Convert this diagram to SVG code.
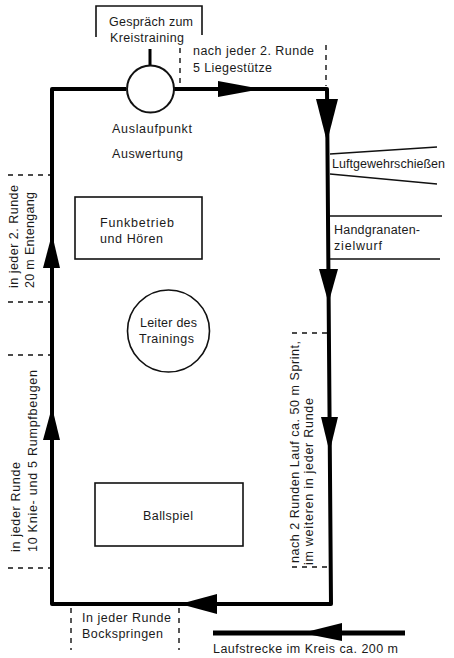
<svg xmlns="http://www.w3.org/2000/svg" width="454" height="658" viewBox="0 0 454 658">
<style>
text{font-family:"Liberation Sans",Arial,sans-serif;font-size:12.5px;fill:#1a1a1a}
.box{fill:none;stroke:#111;stroke-width:1.6}
.thin{fill:none;stroke:#111;stroke-width:1.5}
.dash{fill:none;stroke:#111;stroke-width:1.4;stroke-dasharray:5 5}
.track{fill:none;stroke:#000;stroke-width:4;stroke-linejoin:round}
.head{fill:#000}
</style>
<rect width="454" height="658" fill="#fff"/>

<g id="connectors">
  <path class="track" d="M126,89 H52 V604 H331 L327,89 H174"/>
  <path class="head" d="M218,81 L262,89 L218,97 Z"/>
  <path class="head" d="M316,99 L338,99 L327,142 Z"/>
  <path class="head" d="M319,269 L338,269 L328.5,303 Z"/>
  <path class="head" d="M321,417 L338,417 L329.5,452 Z"/>
  <path class="head" d="M52,234 L60,268 L43,268 Z"/>
  <path class="head" d="M52,407 L60,440 L43,440 Z"/>
  <path class="head" d="M180,604 L217,594 L217,614 Z"/>
  <path d="M213,633 H405" stroke="#000" stroke-width="5" fill="none"/>
  <path class="head" d="M302,633 L342,623 L342,641 Z"/>
  <path d="M150,49 V65" stroke="#000" stroke-width="3"/>
</g>

<g id="gespraech">
  <path class="box" d="M96,37 V6 H202 V35"/>
  <text x="109" y="26" textLength="84" lengthAdjust="spacing">Gespräch zum</text>
  <text x="110" y="42" textLength="74" lengthAdjust="spacing">Kreistraining</text>
</g>

<g id="auslaufpunkt">
  <circle cx="150.5" cy="89" r="23.5" fill="#fff" stroke="#111" stroke-width="2"/>
  <text x="112" y="133" textLength="80" lengthAdjust="spacing">Auslaufpunkt</text>
  <text x="112" y="158" textLength="71" lengthAdjust="spacing">Auswertung</text>
</g>

<g id="liegestuetze">
  <path class="dash" d="M180,48 V87"/>
  <path class="dash" d="M326,45 V86"/>
  <text x="193" y="55" textLength="121" lengthAdjust="spacing">nach jeder 2. Runde</text>
  <text x="193" y="72" textLength="79" lengthAdjust="spacing">5 Liegestütze</text>
</g>

<g id="luftgewehr">
  <path class="thin" d="M330,154 L437,147 M330,174 L437,184"/>
  <text x="332" y="168" textLength="113" lengthAdjust="spacing">Luftgewehrschießen</text>
</g>

<g id="handgranaten">
  <path class="thin" d="M330,216 L442,216 M330,259 L440,259"/>
  <text x="334" y="234" textLength="86" lengthAdjust="spacing">Handgranaten-</text>
  <text x="334" y="250" textLength="48" lengthAdjust="spacing">zielwurf</text>
</g>

<g id="sprint">
  <path class="dash" d="M292,333 H328 M292,567 H328"/>
  <text transform="translate(299,563) rotate(-90)" textLength="222" lengthAdjust="spacing">nach 2 Runden Lauf ca. 50 m Sprint,</text>
  <text transform="translate(313,565) rotate(-90)" textLength="167" lengthAdjust="spacing">im weiteren in jeder Runde</text>
</g>

<g id="funkbetrieb">
  <rect class="box" x="75" y="197" width="127" height="62"/>
  <text x="100" y="227" textLength="74" lengthAdjust="spacing">Funkbetrieb</text>
  <text x="100" y="243" textLength="63" lengthAdjust="spacing">und Hören</text>
</g>

<g id="leiter">
  <circle class="box" cx="168.5" cy="331" r="41"/>
  <text x="140" y="327" textLength="57" lengthAdjust="spacing">Leiter des</text>
  <text x="139" y="343" textLength="55" lengthAdjust="spacing">Trainings</text>
</g>

<g id="entengang">
  <path class="dash" d="M8,175 H50 M8,302 H50"/>
  <text transform="translate(18,288) rotate(-90)" textLength="103" lengthAdjust="spacing">in jeder 2. Runde</text>
  <text transform="translate(34,288) rotate(-90)" textLength="96" lengthAdjust="spacing">20 m Entengang</text>
</g>

<g id="rumpfbeugen">
  <path class="dash" d="M8,355 H50 M8,568 H50"/>
  <text transform="translate(20,552) rotate(-90)" textLength="90" lengthAdjust="spacing">in jeder Runde</text>
  <text transform="translate(37,552) rotate(-90)" textLength="182" lengthAdjust="spacing">10 Knie- und 5 Rumpfbeugen</text>
</g>

<g id="ballspiel">
  <rect class="box" x="95" y="483" width="148" height="63"/>
  <text x="143" y="520" textLength="50" lengthAdjust="spacing">Ballspiel</text>
</g>

<g id="bockspringen">
  <path class="dash" d="M71,608 V650 M179,608 V650"/>
  <text x="82" y="622" textLength="89" lengthAdjust="spacing">In jeder Runde</text>
  <text x="82" y="638" textLength="81" lengthAdjust="spacing">Bockspringen</text>
</g>

<g id="laufstrecke">
  <text x="213" y="653" textLength="185" lengthAdjust="spacing">Laufstrecke im Kreis ca. 200 m</text>
</g>
</svg>
